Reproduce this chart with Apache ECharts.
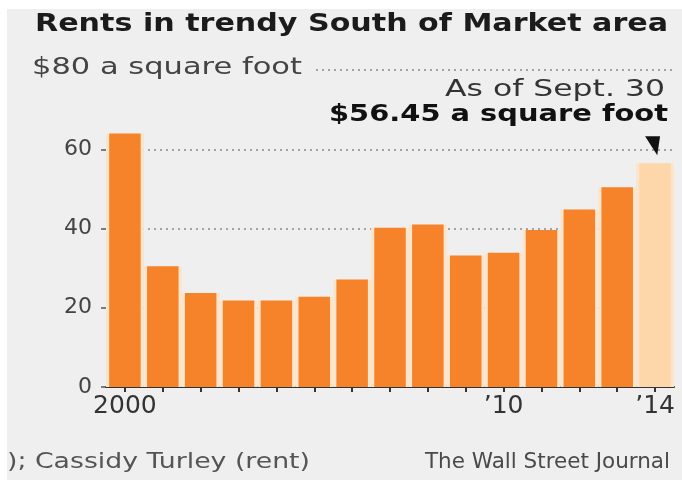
<!DOCTYPE html>
<html>
<head>
<meta charset="utf-8">
<script src="https://cdn.jsdelivr.net/npm/echarts@6/dist/echarts.min.js"></script>
<style>
  html, body { margin: 0; padding: 0; background: #ffffff; }
  #chart { width: 682px; height: 480px; }
</style>
</head>
<body>
<div id="chart"></div>
<script>
// Average asking rent, South of Market, dollars per square foot
const years = ['2000', '2001', '2002', '2003', '2004', '2005', '2006', '2007',
               '2008', '2009', '2010', '2011', '2012', '2013', '2014'];
const rent = [64.0, 30.5, 23.7, 21.8, 21.8, 22.8, 27.1, 40.2,
              41.0, 33.2, 33.9, 39.6, 44.8, 50.4, 56.45];
const yearLabels = { '2000': '2000', '2010': '\u201910', '2014': '\u201914' };
const yTicks = { 0: '0', 20: '20', 40: '40', 60: '60', 80: '' };

const ORANGE = '#f6832a';
const PARTIAL = '#fdd6aa';
const HALO = '#fbe5cc';
const BG = '#efefef';
const FONT = '"DejaVu Sans", sans-serif';

// Horizontal stretch so a line of text spans the given width
const measure = document.createElement('canvas').getContext('2d');
function stretch(text, size, weight, width) {
  measure.font = weight + ' ' + size + 'px ' + FONT;
  return width / measure.measureText(text).width;
}
function label(text, x, y, size, weight, fill, align, width, extra) {
  return {
    type: 'text', x: x, y: y, z: 100,
    scaleX: stretch(text, size, weight, width),
    style: Object.assign({
      text: text, fill: fill, fontSize: size, fontWeight: weight,
      fontFamily: FONT, align: align, verticalAlign: 'middle'
    }, extra || {})
  };
}

const lastIdx = rent.length - 1;
const barData = rent.map((v, i) => i === lastIdx ? { value: v, itemStyle: { color: PARTIAL } } : v);

const chart = echarts.init(document.getElementById('chart'), null, { renderer: 'canvas' });
chart.setOption({
  backgroundColor: BG,
  animation: false,
  grid: { left: 106, right: 8, top: 70, bottom: 93 },
  xAxis: [{
    type: 'category',
    data: years,
    boundaryGap: true,
    axisLine: { show: true, lineStyle: { color: '#333', width: 2 } },
    axisTick: { show: true, alignWithLabel: true, length: 5, lineStyle: { color: '#333', width: 2 } },
    axisLabel: {
      interval: 0, margin: 7, color: '#333', fontSize: 25, fontFamily: FONT,
      formatter: v => yearLabels[v] || ''
    }
  }, {
    type: 'category', data: years, show: false, position: 'bottom'
  }],
  yAxis: {
    type: 'value', min: 0, max: 80, interval: 20,
    axisLine: { show: false },
    axisTick: { show: true, length: 5, lineStyle: { color: '#555', width: 1.5 } },
    axisLabel: {
      margin: 14, color: '#444', fontSize: 22, fontFamily: FONT,
      formatter: v => yTicks[v]
    },
    splitLine: { show: true, lineStyle: { color: '#8a8a8a', width: 1.5, type: [2, 4] } }
  },
  series: [{
    type: 'bar', xAxisIndex: 1, data: rent, barWidth: '100%', silent: true,
    itemStyle: { color: HALO }, z: 1
  }, {
    type: 'bar', xAxisIndex: 0, data: barData, barWidth: 31.5, z: 2,
    itemStyle: { color: ORANGE },
    markPoint: {
      silent: true,
      symbol: 'path://M0,0 L16,0 L13,19 Z',
      symbolSize: [15, 19],
      symbolOffset: [-2.5, -17.5],
      itemStyle: { color: '#111' },
      label: { show: false },
      data: [{ coord: [lastIdx, rent[lastIdx]] }]
    }
  }],
  graphic: [
    { type: 'rect', z: 100, shape: { x: 0, y: 0, width: 682, height: 9 }, style: { fill: '#ffffff' } },
    { type: 'rect', z: 100, shape: { x: 0, y: 0, width: 7, height: 480 }, style: { fill: '#ffffff' } },
    label('Rents in trendy South of Market area', 35, 24, 25, 'bold', '#1b1b1b', 'left', 633),
    label('$80 a square foot', 32, 68, 23, 'normal', '#444', 'left', 270,
          { backgroundColor: BG, padding: [2, 8, 2, 0] }),
    label('As of Sept. 30', 665, 90, 23, 'normal', '#333', 'right', 220),
    label('$56.45 a square foot', 668, 115, 23, 'bold', '#111', 'right', 339),
    label('); Cassidy Turley (rent)', 7, 463, 21, 'normal', '#555', 'left', 303),
    label('The Wall Street Journal', 670, 463, 21, 'normal', '#4a4a4a', 'right', 245)
  ]
});
</script>
</body>
</html>
